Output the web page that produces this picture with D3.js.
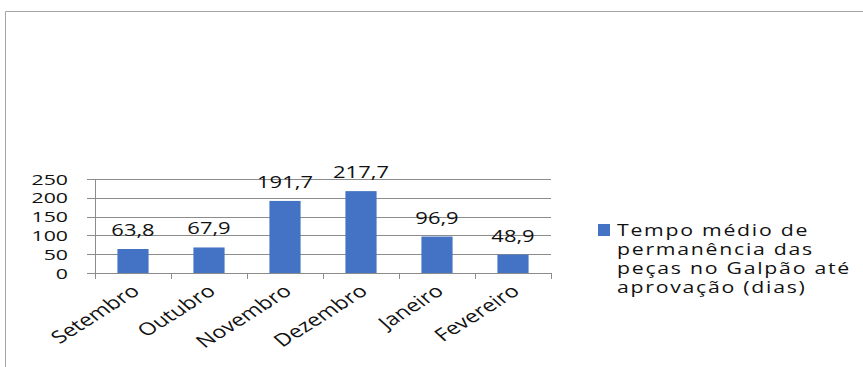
<!DOCTYPE html>
<html><head><meta charset="utf-8">
<script src="https://cdn.jsdelivr.net/npm/d3@7"></script>
<style>body{margin:0;background:#fff}svg{display:block}text{font-family:"Open Sans",sans-serif;fill:#111}</style>
</head><body>
<script>
const categories = ["Setembro","Outubro","Novembro","Dezembro","Janeiro","Fevereiro"];
const values = [63.8,67.9,191.7,217.7,96.9,48.9];
const yTicks = [0,50,100,150,200,250];
const seriesName = ["Tempo médio de","permanência das","peças no Galpão até","aprovação (dias)"];

(function(){
const W=863,H=367, SX=1.33;
const svg=d3.select("body").append("svg").attr("width",W).attr("height",H);
svg.append("path").attr("d",`M5.5,${H} L5.5,11.5 L${W},11.5`).attr("fill","none").attr("stroke","#a6a6a6").attr("stroke-width",1);

const pL=95,pR=551,pT=179,pB=273;
const x=d3.scaleBand().domain(categories).range([pL,pR]).paddingInner(0.59).paddingOuter(0.295);
const xb=d3.scaleBand().domain(categories).range([pL,pR]);
const y=d3.scaleLinear().domain([0,250]).range([pB,pT]);
const fmt=v=>d3.format(".1f")(v).replace(".",",");

svg.append("g").selectAll("line").data(yTicks).join("line")
 .attr("x1",pL-8).attr("x2",pR).attr("y1",d=>Math.round(y(d))+0.5).attr("y2",d=>Math.round(y(d))+0.5)
 .attr("stroke","#8c8c8c").attr("stroke-width",1);
svg.append("line").attr("x1",pL+0.5).attr("x2",pL+0.5).attr("y1",pT).attr("y2",pB+6).attr("stroke","#8c8c8c");
const bounds=categories.map(c=>xb(c)).concat([pR]);
svg.append("g").selectAll("line").data(bounds).join("line")
 .attr("x1",d=>Math.round(d)+0.5).attr("x2",d=>Math.round(d)+0.5).attr("y1",pB).attr("y2",pB+6).attr("stroke","#8c8c8c");

svg.append("g").selectAll("rect").data(values).join("rect")
 .attr("x",(d,i)=>x(categories[i])).attr("width",x.bandwidth())
 .attr("y",d=>y(d)).attr("height",d=>pB-y(d)).attr("fill","#4472c4");

svg.append("g").selectAll("text").data(yTicks).join("text")
 .attr("transform",d=>`translate(68,${y(d)+5.5}) scale(1.42,1)`).attr("text-anchor","end")
 .attr("font-size",15).text(d=>d);

svg.append("g").selectAll("text").data(values).join("text")
 .attr("transform",(d,i)=>`translate(${x(categories[i])+x.bandwidth()/2},${y(d)-13}) scale(${SX},1)`)
 .attr("text-anchor","middle").attr("font-size",16.5).text(d=>fmt(d));

svg.append("g").selectAll("text").data(categories).join("text")
 .attr("transform",d=>`translate(${xb(d)+xb.bandwidth()/2+8},${pB+20}) scale(${SX},1) rotate(-40)`)
 .attr("text-anchor","end").attr("font-size",17.5).text(d=>d);

svg.append("rect").attr("x",598).attr("y",224).attr("width",12).attr("height",12).attr("fill","#4472c4");
svg.append("g").selectAll("text").data(seriesName).join("text")
 .attr("transform",(d,i)=>`translate(617,${236+i*19}) scale(${SX},1)`)
 .attr("font-size",16).attr("letter-spacing",1.3).text(d=>d);
})();
</script>
</body></html>
